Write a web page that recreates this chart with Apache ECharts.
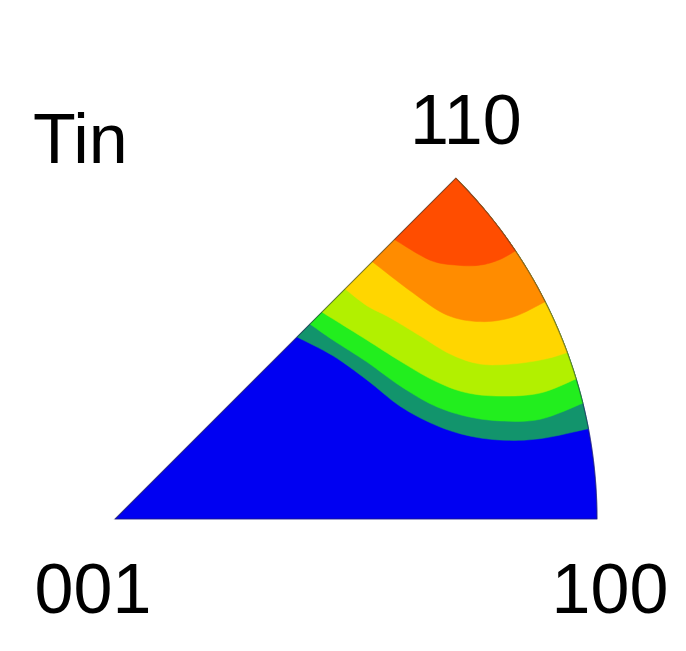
<!DOCTYPE html>
<html>
	<head>
		<meta charset="utf-8">
		<title>Tin IPF</title>
		<script src="https://cdn.jsdelivr.net/npm/echarts@6/dist/echarts.min.js" type="text/javascript" charset="utf-8"></script>
		<style>
			html,body{margin:0;padding:0;background:#fff;}
			#chart{width:686px;height:651px;}
		</style>
	</head>
	<body>
		<div id="chart"></div>
		<script type="text/javascript">
			// 轮廓线：每条为 [r, 角度]，从 001-110 边 (45°) 走到外弧 (r=1)
			var sectorBound = [[0, 45], [0, 0], [1, 0]];
			var tealBound = [[0.534, 45], [0.565, 36.8], [0.597, 28.9], [0.636, 21.6], [0.689, 16.6], [0.747, 13.5], [0.815, 11.6], [0.897, 10.7], [1, 10.8]];
			var greenBound = [[0.572, 45], [0.585, 39.4], [0.616, 31.9], [0.653, 25.0], [0.701, 19.7], [0.757, 16.4], [0.824, 14.3], [0.906, 13.2], [1, 13.9]];
			var yellowGreenBound = [[0.607, 45], [0.614, 42.5], [0.641, 35.4], [0.676, 29.0], [0.720, 23.6], [0.772, 19.9], [0.839, 17.7], [0.920, 16.5], [1, 16.9]];
			var yellowBound = [[0.675, 45], [0.685, 40.2], [0.707, 36.2], [0.738, 31.0], [0.775, 26.2], [0.823, 23.0], [0.886, 21.3], [0.952, 20.4], [1, 20.2]];
			var orangeBound = [[0.755, 45], [0.776, 37.2], [0.808, 31.6], [0.861, 28.4], [0.926, 26.9], [1, 26.8]];
			var redBound = [[0.820, 45], [0.846, 39.4], [0.885, 36.5], [0.923, 34.8], [0.962, 34.0], [1, 33.8]];

			var bounds = [sectorBound, tealBound, greenBound, yellowGreenBound, yellowBound, orangeBound, redBound];
			var bandColors = ['#0000f2', '#12946c', '#22ee1e', '#b2f000', '#ffd600', '#ff8c00', '#ff4d00'];

			var cornerNames = ['001', '100', '110'];
			var cornerPos = [[0, 0], [1, 0], [1, 45]];
			var titleText = 'Tin';

			var cornerOffset = [[-22, 75], [13, 75], [10, -53]];
			var fontFamily = '"Liberation Sans", Arial, sans-serif';

			var myChart = echarts.init(document.getElementById('chart'));

			// 平滑轮廓 (Catmull-Rom)，只在绘制时用
			function smoothLine(pts){
				if(pts.length < 3) return pts;
				var out = [], n = pts.length, steps = 8;
				for(var i = 0; i < n - 1; i++){
					var p0 = pts[Math.max(i - 1, 0)], p1 = pts[i], p2 = pts[i + 1], p3 = pts[Math.min(i + 2, n - 1)];
					for(var s = 0; s < steps; s++){
						var t = s / steps, t2 = t * t, t3 = t2 * t;
						out.push([
							0.5 * (2 * p1[0] + (-p0[0] + p2[0]) * t + (2 * p0[0] - 5 * p1[0] + 4 * p2[0] - p3[0]) * t2 + (-p0[0] + 3 * p1[0] - 3 * p2[0] + p3[0]) * t3),
							0.5 * (2 * p1[1] + (-p0[1] + p2[1]) * t + (2 * p0[1] - 5 * p1[1] + 4 * p2[1] - p3[1]) * t2 + (-p0[1] + 3 * p1[1] - 3 * p2[1] + p3[1]) * t3)
						]);
					}
				}
				out.push(pts[n - 1]);
				return out;
			}

			function bandPoints(api, bound, smooth){
				var pts = [], i, last = bound[bound.length - 1];
				for(i = 0; i < bound.length; i++){
					pts.push(api.coord(bound[i]));
				}
				if(smooth) pts = smoothLine(pts);
				// 沿外弧回到 110
				for(var a = last[1] + 1; a < 45; a += 1){
					pts.push(api.coord([1, a]));
				}
				pts.push(api.coord([1, 45]));
				return pts;
			}

			var option = {
				backgroundColor: '#fff',
				animation: false,
				polar: {
					center: [115, 519],
					radius: 482
				},
				angleAxis: {
					type: 'value',
					min: 0,
					max: 360,
					startAngle: 0,
					clockwise: false,
					show: false
				},
				radiusAxis: {
					type: 'value',
					min: 0,
					max: 1,
					show: false
				},
				graphic: [{
					type: 'text',
					left: 33,
					top: 109,
					style: {
						text: titleText,
						font: '70px ' + fontFamily,
						fill: '#000'
					}
				}],
				series: [{
					name: 'bands',
					type: 'custom',
					coordinateSystem: 'polar',
					data: bounds.map(function(b, i){ return [i]; }),
					renderItem: function(params, api){
						var idx = params.dataIndex;
						return {
							type: 'polygon',
							shape: {points: bandPoints(api, bounds[idx], idx > 0)},
							style: {fill: bandColors[idx], stroke: bandColors[idx], lineWidth: 0.5}
						};
					}
				},{
					name: 'outline',
					type: 'custom',
					coordinateSystem: 'polar',
					data: [[0]],
					renderItem: function(params, api){
						return {
							type: 'polygon',
							shape: {points: bandPoints(api, sectorBound, false)},
							style: {fill: 'none', stroke: 'rgba(40,40,60,0.5)', lineWidth: 1.2}
						};
					}
				},{
					name: 'corners',
					type: 'custom',
					coordinateSystem: 'polar',
					data: cornerPos.map(function(p, i){ return [p[0], p[1], i]; }),
					renderItem: function(params, api){
						var i = params.dataIndex;
						var pt = api.coord(cornerPos[i]);
						return {
							type: 'text',
							x: pt[0] + cornerOffset[i][0],
							y: pt[1] + cornerOffset[i][1],
							style: {
								text: cornerNames[i],
								font: '70px ' + fontFamily,
								fill: '#000',
								align: 'center',
								verticalAlign: 'middle'
							}
						};
					}
				}]
			};
			myChart.setOption(option);
		</script>
	</body>
</html>
